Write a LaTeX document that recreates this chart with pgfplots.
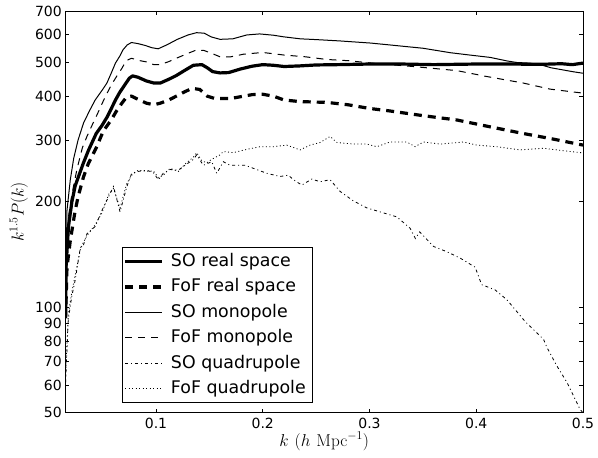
\documentclass[border=0pt]{standalone}
\usepackage[no-math]{fontspec}
\setmainfont{DejaVu Sans}
\usepackage{pgfplots}
\pgfplotsset{compat=1.18}
\begin{document}
\begin{tikzpicture}
\begin{axis}[
  scale only axis, width=517.5bp, height=401.7bp,
  ymode=log, xmin=0.0152, xmax=0.5, ymin=50, ymax=700,
  xtick={0.1,0.2,0.3,0.4,0.5}, xticklabels={0.1,0.2,0.3,0.4,0.5},
  ytick={50,60,70,80,90,100,200,300,400,500,600,700},
  yticklabels={50,60,70,80,90,100,200,300,400,500,600,700},
  minor y tick num=0, minor x tick num=0,
  tick align=inside, major tick length=4bp,
  every tick/.style={black, line width=0.8bp},
  axis line style={line width=0.8bp},
  ticklabel style={font=\fontsize{14bp}{16bp}\selectfont},
  yticklabel style={inner xsep=0pt, inner ysep=0pt, xshift=-3.5bp},
  xticklabel style={inner ysep=0pt, inner xsep=0pt, yshift=-5.3bp},
  xlabel={$k\ (h\ \mathrm{Mpc}^{-1})$},
  ylabel={$k^{1.5}P(k)$},
  label style={font=\fontsize{18.5bp}{22bp}\selectfont},
  xlabel style={at={(axis description cs:0.5,-0.0835)}, anchor=base, inner sep=0pt},
  ylabel style={at={(axis description cs:-0.0808,0.5)}, rotate=0, anchor=base, inner sep=0pt},
  legend style={at={(axis description cs:0.1086,0.0234)}, anchor=south west,
    draw=black, line width=0.8bp, inner sep=1.5bp, /tikz/column sep=2.4bp,
    font=\fontsize{17.4bp}{20bp}\selectfont,
    nodes={inner xsep=4.8bp, inner ysep=4.3bp, text height=13.2bp, text depth=3.6bp}},
  legend cell align=left,
  legend image code/.code={\draw[#1] (0bp,0bp) -- (37bp,0bp);},
]
\coordinate (bl) at (rel axis cs:0,0);
\coordinate (tr) at (rel axis cs:1,1);

\addplot[black, line width=3.2bp, line join=round] coordinates {
(0.0153,95) (0.0157,130) (0.018,170) (0.0212,200) (0.0243,222) (0.0287,242) (0.0320,258) (0.0369,281) (0.0412,300) (0.044,313) (0.0494,330) (0.054,348) (0.058,368) (0.062,390) (0.066,410) (0.071,432) (0.075,450) (0.078,457) (0.083,453) (0.091,442) (0.098,436) (0.104,436) (0.112,447) (0.119,458) (0.127,474) (0.135,490) (0.143,492) (0.148,482) (0.153,470) (0.160,466) (0.168,467) (0.179,478) (0.19,487) (0.2,492) (0.21,490) (0.22,486) (0.235,488) (0.25,491) (0.27,492) (0.30,494) (0.33,494) (0.36,492) (0.40,494) (0.43,494) (0.46,493) (0.48,495) (0.49,492) (0.5,497)
};
\addlegendentry{SO real space}

\addplot[black, line width=3.2bp, dash pattern=on 8bp off 6bp] coordinates {
(0.0153,93) (0.0166,130) (0.0197,155) (0.0243,189) (0.0271,207) (0.032,235) (0.0366,257) (0.044,285) (0.0506,318) (0.058,342) (0.063,363) (0.068,382) (0.0725,398) (0.077,400) (0.083,392) (0.091,382) (0.098,378) (0.104,382) (0.112,390) (0.119,400) (0.127,412) (0.134,421) (0.141,418) (0.148,400) (0.155,394) (0.17,394) (0.19,404) (0.2,405) (0.21,400) (0.22,390) (0.235,386) (0.26,384) (0.28,378) (0.30,369) (0.319,363) (0.35,352) (0.382,342) (0.413,327) (0.444,313) (0.469,303) (0.5,290)
};
\addlegendentry{FoF real space}

\addplot[black, line width=1bp] coordinates {
(0.0153,100) (0.0166,189) (0.0197,231) (0.0229,266) (0.027,300) (0.0322,336) (0.038,365) (0.043,390) (0.050,418) (0.054,436) (0.058,465) (0.062,497) (0.066,520) (0.069,542) (0.073,560) (0.077,569) (0.083,565) (0.090,558) (0.096,550) (0.102,546) (0.11,560) (0.12,581) (0.13,598) (0.138,607) (0.145,605) (0.152,590) (0.16,581) (0.172,583) (0.185,598) (0.197,602) (0.21,597) (0.219,591) (0.235,583) (0.25,580) (0.272,575) (0.301,567) (0.319,560) (0.350,548) (0.376,532) (0.394,524) (0.413,516) (0.429,504) (0.438,499) (0.450,497) (0.460,492) (0.470,482) (0.480,476) (0.490,470) (0.5,465)
};
\addlegendentry{SO monopole}

\addplot[black, line width=1bp, dash pattern=on 7bp off 6bp] coordinates {
(0.0153,100) (0.018,181) (0.0212,210) (0.026,248) (0.031,285) (0.0353,307) (0.040,330) (0.044,350) (0.051,390) (0.054,407) (0.058,430) (0.063,455) (0.068,480) (0.072,505) (0.077,513) (0.085,505) (0.091,501) (0.098,492) (0.104,492) (0.112,502) (0.119,513) (0.13,530) (0.138,542) (0.145,540) (0.152,530) (0.16,518) (0.17,518) (0.182,527) (0.2,533) (0.22,524) (0.24,518) (0.26,509) (0.28,505) (0.305,496) (0.341,486) (0.382,473) (0.41,455) (0.444,436) (0.469,419) (0.5,408)
};
\addlegendentry{FoF monopole}

\addplot[black, line width=0.8bp, dash pattern=on 3bp off 3bp on 1bp off 3bp] coordinates {
(0.0153,61) (0.0178,92) (0.0210,107) (0.0244,120) (0.0291,148) (0.0319,150) (0.0353,162) (0.0431,170) (0.0494,189) (0.0557,207) (0.0602,221) (0.0663,187) (0.0725,220) (0.0772,241) (0.0834,244) (0.0913,246) (0.0975,242) (0.1022,231) (0.1068,241) (0.1131,247) (0.1209,246) (0.1272,254) (0.135,264) (0.1381,272) (0.1443,254) (0.1522,260) (0.1569,241) (0.1631,260) (0.1694,254) (0.1834,254) (0.1912,249) (0.2037,241) (0.2162,236) (0.2240,238) (0.2287,231) (0.2366,223) (0.2459,232) (0.2537,228) (0.2631,231) (0.2724,214) (0.2849,201) (0.2975,192) (0.310,187) (0.3256,181) (0.338,168) (0.343,157) (0.347,164) (0.360,149) (0.3724,144) (0.385,138) (0.399,130) (0.405,116) (0.4177,112) (0.4287,105) (0.4458,91) (0.463,81) (0.466,77) (0.4755,68) (0.485,61) (0.4974,51) (0.5,50)
};
\addlegendentry{SO quadrupole}

\addplot[black, line width=0.8bp, dash pattern=on 1bp off 2.5bp] coordinates {
(0.0153,64) (0.0178,95) (0.0210,110) (0.0244,124) (0.0291,146) (0.0319,153) (0.0353,160) (0.0431,172) (0.0494,186) (0.0557,210) (0.0602,218) (0.0663,192) (0.0725,225) (0.0772,238) (0.0834,246) (0.0913,244) (0.0975,245) (0.1022,234) (0.1068,238) (0.1131,249) (0.1209,244) (0.1272,256) (0.135,268) (0.1381,276) (0.1428,262) (0.1475,258) (0.152,264) (0.160,272) (0.1631,278) (0.1724,276) (0.185,282) (0.1975,287) (0.21,287) (0.2225,290) (0.235,281) (0.2443,290) (0.2537,295) (0.2631,307) (0.2694,295) (0.2849,292) (0.2975,292) (0.3068,287) (0.3193,296) (0.335,296) (0.3427,287) (0.3505,296) (0.3662,292) (0.388,296) (0.4006,290) (0.4193,287) (0.4411,281) (0.463,284) (0.4755,281) (0.4974,276) (0.5,276)
};
\addlegendentry{FoF quadrupole}
\end{axis}
\pgfresetboundingbox
\path ([shift={(-65.5bp,-45.3bp)}]bl) rectangle ([shift={(15bp,11bp)}]tr);
\end{tikzpicture}
\end{document}
